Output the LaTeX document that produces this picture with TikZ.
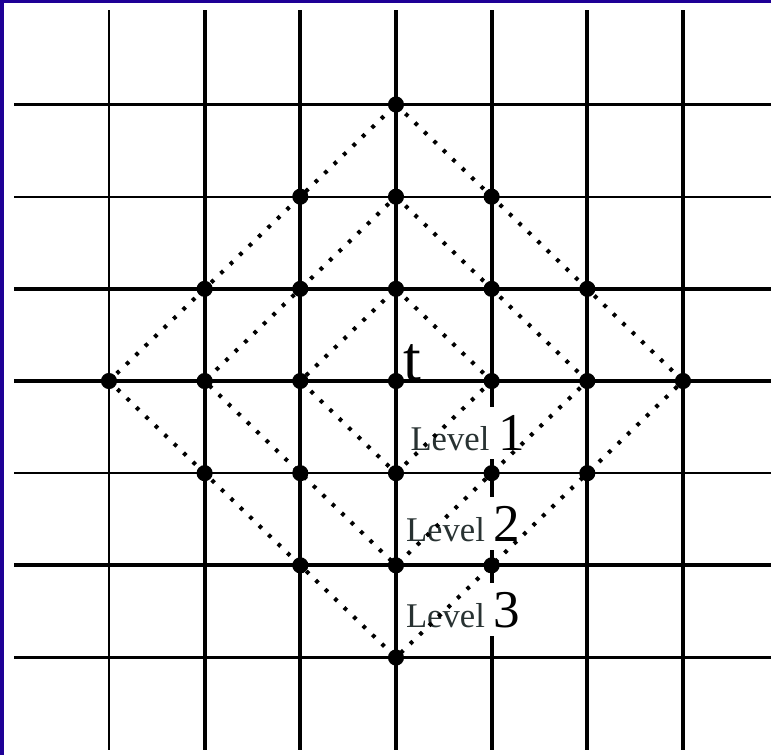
\documentclass[tikz,border=0pt]{standalone}
\usepackage{fontspec}
\setmainfont{Liberation Serif}
\definecolor{frameblue}{RGB}{30,0,150}
\definecolor{lvlgray}{RGB}{40,50,50}

\begin{document}
\begin{tikzpicture}[x=1cm, y=0.9634cm,
    thickline/.style={black, line width=1.15pt},
    thinline/.style={black, line width=0.6pt},
    dotline/.style={black, line width=1.2pt, dash pattern=on 1.1pt off 2.8pt},
    lvl/.style={fill=white, inner xsep=1pt, inner ysep=2.5pt, anchor=base west,
        text=lvlgray, font=\fontsize{10.3}{12}\selectfont}]
    \useasboundingbox (-4.139,-4.058) rectangle (3.920,4.134);
    \fill[frameblue] (-4.139,4.101) rectangle (3.920,4.134);
    \fill[frameblue] (-4.139,-4.058) rectangle (-4.097,4.134);

    % grid
    \foreach \x in {-2,...,3}
    \draw[thickline] (\x, -4.0) -- (\x, 4.025);
    \draw[thinline] (-3, -4.0) -- (-3, 4.025);
    \foreach \y in {-3,-2,0,1,3}
    \draw[thickline] (-3.99, \y) -- (4, \y);
    \foreach \y in {-1,2}
    \draw[thinline] (-3.99, \y) -- (4, \y);

    % labels
    \node[lvl] at (0.11, -0.749) (l1) {Level {\fontsize{15.8}{18}\selectfont\color{black}1}};
    \node[lvl] at (0.063, -1.736) (l2) {Level {\fontsize{15.8}{18}\selectfont\color{black}2}};
    \node[lvl] at (0.063, -2.669) (l3) {Level {\fontsize{15.8}{18}\selectfont\color{black}3}};

    % points
    \foreach \c in {0,...,6}
    \foreach \r in {0,...,6} {
        \coordinate (p\c\r) at (\c-3, \r-3);
    }

    % levels
    \foreach \k in {1,2,3} {
        \pgfmathtruncatemacro{\hi}{3+\k}
        \pgfmathtruncatemacro{\lo}{3-\k}
        \draw[dotline] (p3\hi) -- (p\hi3) -- (p3\lo) -- (p\lo3) -- (p3\hi);
    }
    \foreach \c in {0,...,6}
    \foreach \r in {0,...,6} {
        \pgfmathtruncatemacro{\d}{abs(\c-3)+abs(\r-3)}
        \ifnum\d<4 \fill (p\c\r) circle (2.4pt); \fi
    }

    \node[anchor=base west, inner sep=0pt, font=\fontsize{19}{22}\selectfont] at (0.07, 0.01) (t) {t};
\end{tikzpicture}
\end{document}
